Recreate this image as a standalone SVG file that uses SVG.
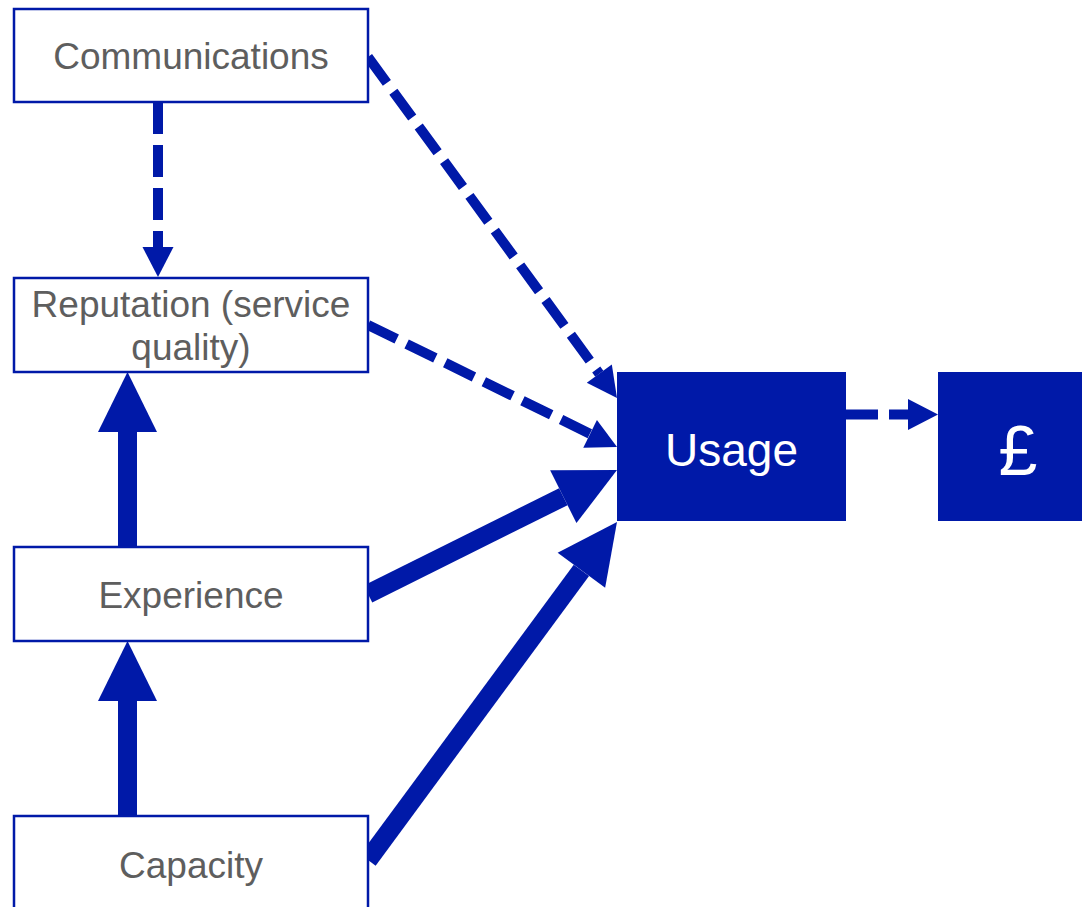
<svg xmlns="http://www.w3.org/2000/svg" width="1082" height="907" viewBox="0 0 1082 907">
<style>
.box{fill:#ffffff;stroke:#0019A8;stroke-width:2.5}
.fill{fill:#0019A8;stroke:none}
.lbl{font-family:"Liberation Sans",Arial,sans-serif;font-size:37px;fill:#5e5e5e;text-anchor:middle}
.wl{font-family:"Liberation Sans",Arial,sans-serif;fill:#ffffff;text-anchor:middle}
.dash{stroke:#0019A8;stroke-width:10;fill:none;stroke-dasharray:32 11;marker-end:url(#hs)}
.thick{stroke:#0019A8;stroke-width:19;fill:none;marker-end:url(#hl)}
</style>
<defs>
<marker id="hs" markerUnits="userSpaceOnUse" markerWidth="30" markerHeight="31" viewBox="0 0 30 31" refX="0" refY="15.5" orient="auto" overflow="visible">
<path d="M0,0 L30,15.5 L0,31 z" fill="#0019A8"/>
</marker>
<marker id="hl" markerUnits="userSpaceOnUse" markerWidth="60" markerHeight="59" viewBox="0 0 60 59" refX="0" refY="29.5" orient="auto" overflow="visible">
<path d="M0,0 L60,29.5 L0,59 z" fill="#0019A8"/>
</marker>
</defs>
<g id="connectors">
<line class="dash" x1="158" y1="102" x2="158" y2="247"/>
<line class="dash" x1="368" y1="57" x2="599.3" y2="373.7"/>
<line class="dash" x1="368" y1="325" x2="590.1" y2="433.8"/>
<line class="dash" x1="846" y1="414.5" x2="908" y2="414.5"/>
<line class="thick" x1="127.5" y1="547" x2="127.5" y2="432"/>
<line class="thick" x1="127.5" y1="816" x2="127.5" y2="701"/>
<line class="thick" x1="368" y1="594" x2="563.3" y2="496.7"/>
<line class="thick" x1="368" y1="860" x2="581.4" y2="570.3"/>
</g>
<g id="communications">
<rect class="box" x="14" y="9" width="354" height="93"/>
<text class="lbl" x="191" y="69">Communications</text>
</g>
<g id="reputation">
<rect class="box" x="14" y="278" width="354" height="94"/>
<text class="lbl" x="191" y="317">Reputation (service</text>
<text class="lbl" x="191" y="360">quality)</text>
</g>
<g id="experience">
<rect class="box" x="14" y="547" width="354" height="94"/>
<text class="lbl" x="191" y="608">Experience</text>
</g>
<g id="capacity">
<rect class="box" x="14" y="816" width="354" height="100"/>
<text class="lbl" x="191" y="878">Capacity</text>
</g>
<g id="usage">
<rect class="fill" x="617" y="372" width="229" height="149"/>
<text class="wl" x="731.5" y="466" font-size="46">Usage</text>
</g>
<g id="money">
<rect class="fill" x="938" y="372" width="150" height="149"/>
<text class="wl" x="1018" y="475" font-size="70">£</text>
</g>
</svg>
